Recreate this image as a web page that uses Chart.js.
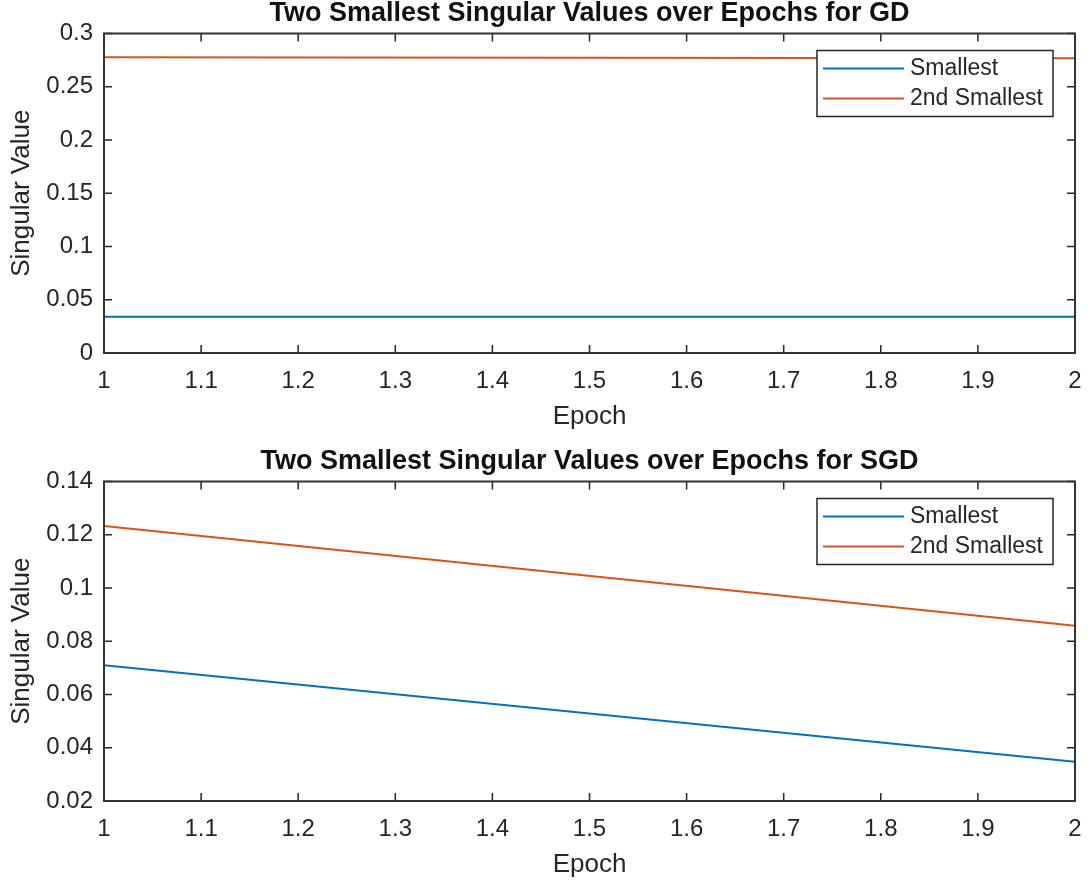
<!DOCTYPE html>
<html>
<head>
<meta charset="utf-8">
<script src="https://cdn.jsdelivr.net/npm/chart.js@4/dist/chart.umd.min.js"></script>
<style>
  body { margin: 0; background: #fff; overflow: hidden; }
  .plot { position: absolute; left: 0; width: 1088px; height: 445px; }
  #gdBox { top: -2px; }
  #sgdBox { top: 446px; }
</style>
</head>
<body>
<div class="plot" id="gdBox"><canvas id="gdChart"></canvas></div>
<div class="plot" id="sgdBox"><canvas id="sgdChart"></canvas></div>
<script>
// epochs and singular values
var epochs = [1, 2];
var gdSmallest = [0.0341, 0.0341];
var gdSecond = [0.2777, 0.2767];
var sgdSmallest = [0.071, 0.0347];
var sgdSecond = [0.1233, 0.0858];

// tick positions
var epochTicks = [1, 1.1, 1.2, 1.3, 1.4, 1.5, 1.6, 1.7, 1.8, 1.9, 2];
var gdTicks = [0, 0.05, 0.1, 0.15, 0.2, 0.25, 0.3];
var sgdTicks = [0.02, 0.04, 0.06, 0.08, 0.1, 0.12, 0.14];

var seriesNames = ['Smallest', '2nd Smallest'];
var seriesColors = ['#0072BD', '#D95319'];

var ink = '#262626';
var family = "'Liberation Sans', Arial, sans-serif";
Chart.defaults.font.family = family;
Chart.defaults.color = ink;

function fmt(v) {
    return String(Number(v.toFixed(3)));
}

function points(ys) {
    var out = [];
    for (var i = 0; i < epochs.length; i++) {
        out.push({x: epochs[i], y: ys[i]});
    }
    return out;
}

// title centred over the axes rather than over the whole canvas
var axesTitlePlugin = {
    id: 'axesTitle',
    afterDraw: function(chart, args, opts) {
        var c = chart.ctx, a = chart.chartArea;
        c.save();
        c.font = 'bold 27px ' + family;
        c.fillStyle = '#111';
        c.textAlign = 'center';
        c.textBaseline = 'middle';
        c.fillText(opts.text, (a.left + a.right) / 2, a.top - 20);
        c.restore();
    }
};

// box around the axes with inward tick marks on all four sides
var boxPlugin = {
    id: 'box',
    afterDatasetsDraw: function(chart) {
        var c = chart.ctx, a = chart.chartArea;
        var xs = chart.scales.x, ys = chart.scales.y;
        var len = 8;
        c.save();
        c.strokeStyle = ink;
        c.lineWidth = 1.5;
        xs.ticks.forEach(function(t) {
            var px = xs.getPixelForValue(t.value);
            c.beginPath();
            c.moveTo(px, a.bottom); c.lineTo(px, a.bottom - len);
            c.moveTo(px, a.top); c.lineTo(px, a.top + len);
            c.stroke();
        });
        ys.ticks.forEach(function(t) {
            var py = ys.getPixelForValue(t.value);
            c.beginPath();
            c.moveTo(a.left, py); c.lineTo(a.left + len, py);
            c.moveTo(a.right, py); c.lineTo(a.right - len, py);
            c.stroke();
        });
        c.lineWidth = 2;
        c.strokeStyle = '#333';
        c.strokeRect(a.left, a.top, a.right - a.left, a.bottom - a.top);
        c.restore();
    }
};

// legend box in the upper right corner of the axes
var legendPlugin = {
    id: 'boxLegend',
    afterDraw: function(chart) {
        var c = chart.ctx, a = chart.chartArea;
        var w = 236, h = 66;
        var x0 = a.right - 22 - w, y0 = a.top + 17;
        c.save();
        c.fillStyle = '#fff';
        c.fillRect(x0, y0, w, h);
        c.strokeStyle = ink;
        c.lineWidth = 1.5;
        c.strokeRect(x0, y0, w, h);
        c.font = '23px ' + family;
        c.textBaseline = 'middle';
        chart.data.datasets.forEach(function(ds, i) {
            var y = y0 + 18 + i * 30;
            c.strokeStyle = ds.borderColor;
            c.lineWidth = 2;
            c.beginPath();
            c.moveTo(x0 + 6, y); c.lineTo(x0 + 87, y);
            c.stroke();
            c.fillStyle = ink;
            c.fillText(ds.label, x0 + 93, y);
        });
        c.restore();
    }
};

function makeChart(id, title, smallest, second, yTicks) {
    return new Chart(document.getElementById(id), {
        type: 'line',
        data: {
            datasets: [
                {label: seriesNames[0], data: points(smallest), borderColor: seriesColors[0], borderWidth: 2, pointRadius: 0, fill: false},
                {label: seriesNames[1], data: points(second), borderColor: seriesColors[1], borderWidth: 2, pointRadius: 0, fill: false}
            ]
        },
        options: {
            responsive: true,
            maintainAspectRatio: false,
            animation: false,
            layout: {padding: {left: 0, right: 13, top: 35.5, bottom: 0}},
            plugins: {
                legend: {display: false},
                tooltip: {enabled: false},
                title: {display: false},
                axesTitle: {text: title}
            },
            scales: {
                x: {
                    type: 'linear',
                    min: epochs[0],
                    max: epochs[epochs.length - 1],
                    grid: {display: false, drawTicks: false},
                    border: {display: false},
                    afterBuildTicks: function(s) {
                        s.ticks = epochTicks.map(function(v) { return {value: v}; });
                    },
                    afterFit: function(s) {
                        s.height = 90;
                        s.paddingLeft = 0;
                        s.paddingRight = 0;
                    },
                    ticks: {
                        font: {size: 24},
                        padding: 14,
                        maxRotation: 0,
                        autoSkip: false,
                        callback: function(v) { return fmt(v); }
                    },
                    title: {
                        display: true,
                        text: 'Epoch',
                        font: {size: 26},
                        padding: {top: 0, bottom: 11}
                    }
                },
                y: {
                    type: 'linear',
                    min: yTicks[0],
                    max: yTicks[yTicks.length - 1],
                    grid: {display: false, drawTicks: false},
                    border: {display: false},
                    afterBuildTicks: function(s) {
                        s.ticks = yTicks.map(function(v) { return {value: v}; });
                    },
                    afterFit: function(s) {
                        s.width = 104;
                        s.paddingTop = 0;
                        s.paddingBottom = 0;
                    },
                    ticks: {
                        font: {size: 24},
                        padding: 11,
                        autoSkip: false,
                        callback: function(v) { return fmt(v); }
                    },
                    title: {
                        display: true,
                        text: 'Singular Value',
                        font: {size: 26},
                        padding: {top: 6, bottom: 0}
                    }
                }
            }
        },
        plugins: [boxPlugin, legendPlugin, axesTitlePlugin]
    });
}

makeChart('gdChart', 'Two Smallest Singular Values over Epochs for GD', gdSmallest, gdSecond, gdTicks);
makeChart('sgdChart', 'Two Smallest Singular Values over Epochs for SGD', sgdSmallest, sgdSecond, sgdTicks);
</script>
</body>
</html>
